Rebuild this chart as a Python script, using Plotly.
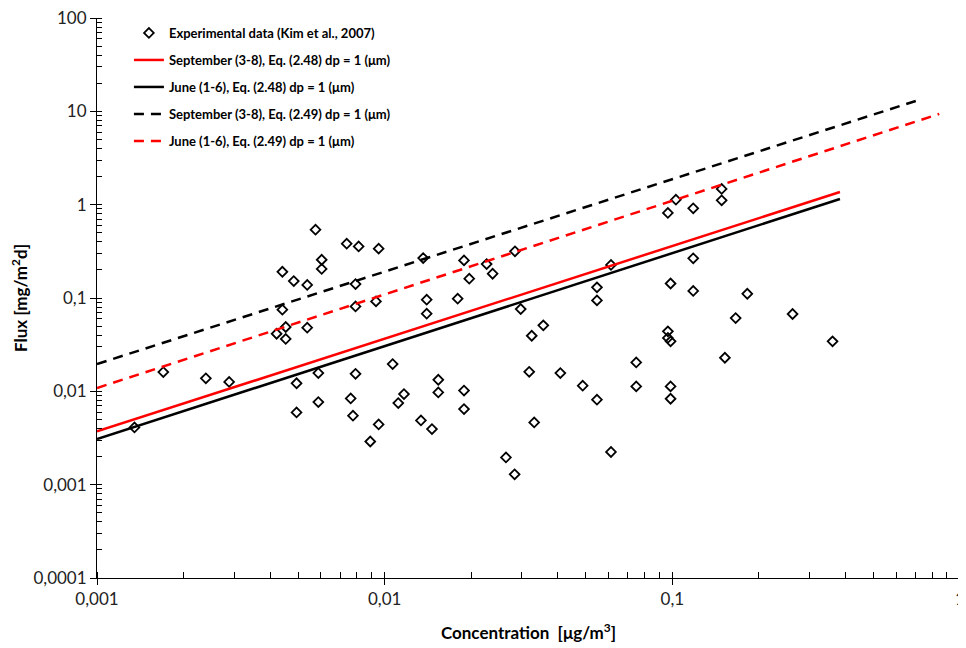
import plotly.graph_objects as go

# Experimental data (Kim et al., 2007)
conc = [0.00135, 0.00170, 0.00239, 0.00288, 0.00441, 0.00483, 0.00538, 0.00575, 0.00604, 0.00604,
        0.00738, 0.00812, 0.00953, 0.00792, 0.00441, 0.00792, 0.00933, 0.00453, 0.00421, 0.00453,
        0.00538, 0.00494, 0.00588, 0.00792, 0.00494, 0.00588, 0.00762, 0.00776, 0.00953, 0.00891,
        0.01066, 0.01361, 0.01887, 0.02838, 0.02262, 0.02373, 0.01968, 0.01400, 0.01400, 0.01794,
        0.02971, 0.03245, 0.0356, 0.0612, 0.0547, 0.0547, 0.01536, 0.01536, 0.01167, 0.01115,
        0.01887, 0.01887, 0.01337, 0.0146, 0.0318, 0.0408, 0.0488, 0.0547, 0.0749, 0.0749,
        0.0264, 0.0283, 0.0612, 0.0331, 0.1484, 0.1484, 0.1029, 0.0965, 0.1182, 0.1182,
        0.0986, 0.1182, 0.1822, 0.166, 0.2618, 0.0965, 0.0965, 0.0986, 0.3605, 0.1523,
        0.0986, 0.0986]
flux = [0.0041, 0.0161, 0.0138, 0.0126, 0.191, 0.152, 0.138, 0.540, 0.257, 0.205,
        0.382, 0.357, 0.338, 0.141, 0.0749, 0.0813, 0.0920, 0.0489, 0.0414, 0.0364,
        0.0481, 0.0122, 0.0157, 0.0154, 0.00594, 0.00768, 0.00839, 0.00548, 0.00442, 0.00290,
        0.0196, 0.268, 0.253, 0.316, 0.231, 0.182, 0.161, 0.0959, 0.0679, 0.0983,
        0.0762, 0.0394, 0.0509, 0.226, 0.130, 0.0943, 0.0133, 0.00973, 0.00935, 0.00749,
        0.0102, 0.00646, 0.00488, 0.00394, 0.0162, 0.0157, 0.0115, 0.00813, 0.0204, 0.0113,
        0.00196, 0.00129, 0.00224, 0.00464, 1.473, 1.112, 1.131, 0.815, 0.913, 0.266,
        0.143, 0.119, 0.111, 0.0610, 0.0674, 0.0439, 0.0373, 0.0343, 0.0343, 0.0229,
        0.0113, 0.00833]

# Model lines (endpoints)
sep248_x = [0.001, 0.3825]
sep248_y = [0.00372, 1.368]
jun248_x = [0.001, 0.3825]
jun248_y = [0.00308, 1.151]
sep249_x = [0.001, 0.7256]
sep249_y = [0.0196, 13.35]
jun249_x = [0.001, 0.847]
jun249_y = [0.01085, 9.38]

x_tickvals = [0.001, 0.01, 0.1, 1]
x_ticktext = ["0,001", "0,01", "0,1", "1"]
y_tickvals = [0.0001, 0.001, 0.01, 0.1, 1, 10, 100]
y_ticktext = ["0,0001", "0,001", "0,01", "0,1", "1", "10", "100"]

names = ["Experimental data (Kim et al., 2007)",
         "September (3-8), Eq. (2.48) dp = 1 (μm)",
         "June (1-6), Eq. (2.48) dp = 1 (μm)",
         "September (3-8), Eq. (2.49) dp = 1 (μm)",
         "June (1-6), Eq. (2.49) dp = 1 (μm)"]

fig = go.Figure()
fig.add_trace(go.Scatter(x=conc, y=flux, mode="markers", name=names[0], legendgroup="g0",
                         marker=dict(symbol="diamond-open", size=7.5, color="black",
                                     line=dict(color="black", width=1.8))))
fig.add_trace(go.Scatter(x=sep248_x, y=sep248_y, mode="lines", name=names[1], legendgroup="g1",
                         line=dict(color="#ff0000", width=2.5)))
fig.add_trace(go.Scatter(x=jun248_x, y=jun248_y, mode="lines", name=names[2], legendgroup="g2",
                         line=dict(color="black", width=2.5)))
fig.add_trace(go.Scatter(x=sep249_x, y=sep249_y, mode="lines", name=names[3], legendgroup="g3",
                         line=dict(color="black", width=2.5, dash="10px,7px")))
fig.add_trace(go.Scatter(x=jun249_x, y=jun249_y, mode="lines", name=names[4], legendgroup="g4",
                         line=dict(color="#ff0000", width=2.5, dash="10px,7px")))

axis_font = dict(family="Lato", size=17, color="#222")
title_font = dict(family="Lato", size=17, color="black", weight="bold")

# The page body has an 8px default margin, so the figure is sized to fit the window.
fig.update_layout(
    width=958, height=640,
    margin=dict(l=89, r=6, t=10, b=70),
    paper_bgcolor="white", plot_bgcolor="white",
    showlegend=True,
    legend=dict(x=0.037, y=1.0, xanchor="left", yanchor="top",
                font=dict(family="Lato", size=13, color="black", weight="bold"),
                bgcolor="rgba(0,0,0,0)", tracegroupgap=7.1, traceorder="grouped"),
    xaxis=dict(type="log", range=[-3, 0], tickvals=x_tickvals, ticktext=x_ticktext,
               automargin=False, ticklabeloverflow="allow",
               showgrid=False, zeroline=False, showline=True, linecolor="black", linewidth=1,
               ticks="outside", ticklen=6, tickcolor="black",
               minor=dict(ticks="inside", ticklen=6, tickcolor="black", dtick="D1", showgrid=False),
               tickfont=axis_font,
               title=dict(text="Concentration  [μg/m<sup>3</sup>]", font=title_font, standoff=18)),
    yaxis=dict(type="log", range=[-4, 2], tickvals=y_tickvals, ticktext=y_ticktext,
               automargin=False, ticklabeloverflow="allow",
               showgrid=False, zeroline=False, showline=True, linecolor="black", linewidth=1,
               ticks="outside", ticklen=6, tickcolor="black",
               minor=dict(ticks="inside", ticklen=5, tickcolor="black", dtick="D1", showgrid=False),
               tickfont=axis_font,
               title=dict(text="Flux [mg/m<sup>2</sup>d]", font=title_font, standoff=2)),
)

fig.write_html("out.html")
